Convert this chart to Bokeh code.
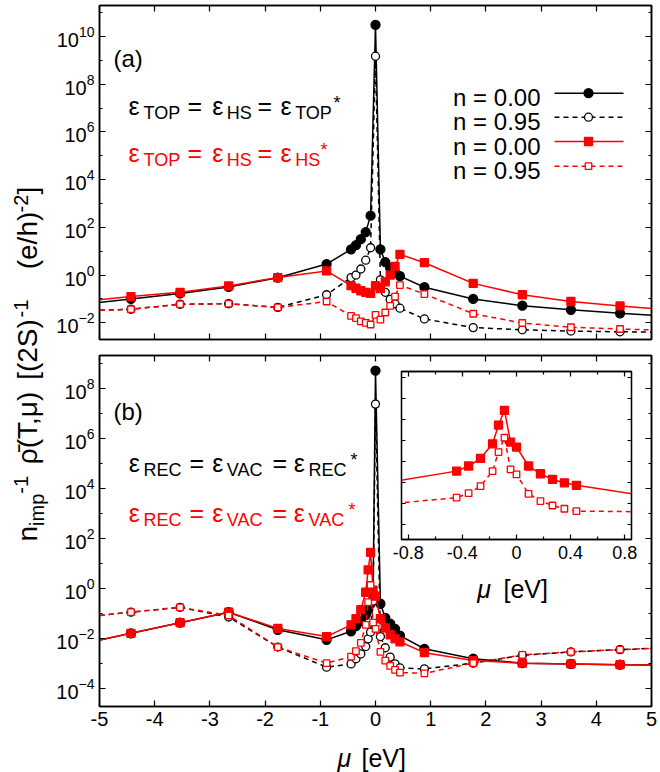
import math
from bokeh.plotting import figure
from bokeh.models import (Range1d, FixedTicker, LinearAxis, LogAxis, Label,
                          CustomJSTickFormatter)
from bokeh.layouts import row, column
from bokeh.embed import file_html
from bokeh.resources import INLINE

FONT = "Liberation Sans"
BLACK = "#000000"
RED = "#ff0000"

# ---------------- data ----------------
# panel (a): epsilon_TOP = epsilon_HS
mu_a = [-5.32, -4.43, -3.54, -2.66, -1.77, -0.886, -0.443, -0.354, -0.266, -0.177,
        -0.089, 0.0, 0.089, 0.177, 0.266, 0.354, 0.443, 0.886, 1.77, 2.66, 3.54, 4.43, 5.32]
a_top_n000 = [0.060, 0.10, 0.17, 0.32, 0.78, 2.9, 12, 18, 32, 63,
              310, 3.1e10, 12, 3.5, 2.0, 1.3, 0.91, 0.31, 0.10, 0.052, 0.035, 0.025, 0.019]
a_top_n095 = [0.032, 0.037, 0.060, 0.063, 0.044, 0.15, 0.79, 1.0, 1.8, 4.2,
              14, 1.5e9, 0.63, 0.19, 0.095, 0.063, 0.041, 0.0145, 0.0063, 0.0051, 0.0045, 0.0042, 0.0040]
a_hs_n000 = [0.079, 0.126, 0.19, 0.35, 0.79, 1.5, 0.36, 0.28, 0.22, 0.19,
             0.17, 0.36, 0.27, 0.52, 1.0, 2.3, 7.4, 3.3, 0.45, 0.15, 0.078, 0.051, 0.035]
a_hs_n095 = [0.032, 0.037, 0.060, 0.063, 0.044, 0.078, 0.0195, 0.0158, 0.0115, 0.010,
             0.0085, 0.0214, 0.0135, 0.027, 0.051, 0.126, 0.38, 0.16, 0.024, 0.0098, 0.0065, 0.0055, 0.0048]

# panel (b): epsilon_REC = epsilon_VAC
mu_b = [-5.32, -4.43, -3.54, -2.66, -1.77, -0.886, -0.443, -0.354, -0.266, -0.177, -0.133,
        -0.089, -0.044, 0.0, 0.089, 0.177, 0.266, 0.354, 0.443, 0.886, 1.77, 2.66, 3.54, 4.43, 5.32]
b_rec_n000 = [0.0063, 0.0166, 0.044, 0.115, 0.023, 0.0091, 0.020, 0.032, 0.050, 0.089, 0.14,
              0.25, 0.63, 5.0e8, 0.25, 0.069, 0.040, 0.025, 0.0135, 0.0040, 0.0016, 0.00107, 0.00100, 0.00093, 0.00089]
b_rec_n095 = [0.072, 0.115, 0.18, 0.074, 0.0047, 0.00074, 0.0010, 0.0016, 0.0025, 0.0049, 0.010,
              0.0186, 0.32, 2.3e7, 0.0123, 0.0044, 0.00186, 0.0010, 0.00069, 0.00063, 0.00107, 0.0022, 0.0030, 0.0037, 0.0044]
b_vac_n000 = [0.0063, 0.0166, 0.044, 0.115, 0.026, 0.0123, 0.036, 0.063, 0.145, 0.72, 5.6,
              28, 0.87, 0.50, 0.063, 0.027, 0.0145, 0.010, 0.0076, 0.0028, 0.00135, 0.00107, 0.00100, 0.00093, 0.00089]
b_vac_n095 = [0.072, 0.115, 0.18, 0.085, 0.0047, 0.00107, 0.00195, 0.0032, 0.0069, 0.036, 0.29,
              1.4, 0.044, 0.025, 0.0030, 0.00135, 0.00083, 0.00058, 0.00045, 0.00042, 0.00107, 0.0023, 0.0030, 0.0037, 0.0044]

x_ticks = [-5, -4, -3, -2, -1, 0, 1, 2, 3, 4, 5]
ya_ticks = [1e-2, 1e0, 1e2, 1e4, 1e6, 1e8, 1e10]
ya_minor = [1e-3, 1e-1, 1e1, 1e3, 1e5, 1e7, 1e9, 1e11]
yb_ticks = [1e-4, 1e-2, 1e0, 1e2, 1e4, 1e6, 1e8]
yb_minor = [1e-5, 1e-3, 1e-1, 1e1, 1e3, 1e5, 1e7, 1e9]
inset_x_ticks = [-0.8, -0.4, 0.0, 0.4, 0.8]
inset_x_minor = [-0.6, -0.2, 0.2, 0.6]
inset_y_ticks = [1e-4, 1e-3, 1e-2, 1e-1, 1e0, 1e1, 1e2, 1e3]
legend_labels = ["n = 0.00", "n = 0.95", "n = 0.00", "n = 0.95"]

STYLES = [
    dict(color=BLACK, dash="solid", marker="circle", size=9, fill=BLACK),
    dict(color=BLACK, dash="5 4", marker="circle", size=8, fill="white"),
    dict(color=RED, dash="solid", marker="square", size=8, fill=RED),
    dict(color=RED, dash="5 4", marker="square", size=6.5, fill="white"),
]

W, H = 660, 772


def style_axis(ax, ticker, labels, fs="20px", tin=6, tmin=3, lw=1.5):
    ax.ticker = ticker
    ax.major_tick_in = tin
    ax.major_tick_out = 0
    ax.minor_tick_in = tmin
    ax.minor_tick_out = 0
    ax.axis_line_color = BLACK
    ax.axis_line_width = lw
    ax.major_tick_line_color = BLACK
    ax.minor_tick_line_color = BLACK
    ax.major_tick_line_width = 1.2
    ax.minor_tick_line_width = 1.2
    ax.major_label_text_font = FONT
    ax.major_label_text_font_size = fs
    ax.major_label_text_color = BLACK
    if not labels:
        ax.formatter = CustomJSTickFormatter(code="return '';")
        ax.major_label_standoff = 0
        ax.major_label_text_font_size = "0px"


def draw_series(p, x, y, st, lw=1.5, xm=None, ym=None):
    p.line(x, y, line_color=st["color"], line_width=lw, line_dash=st["dash"])
    p.scatter(x if xm is None else xm, y if ym is None else ym, marker=st["marker"],
              size=st["size"], fill_color=st["fill"], line_color=st["color"], line_width=1.3)


def make_panel(ylog_lo, ylog_hi, fh, top, bottom, yt, ym, xlabels):
    p = figure(x_range=Range1d(-5, 5), y_range=Range1d(10 ** ylog_lo, 10 ** ylog_hi),
               y_axis_type="log", frame_width=552, frame_height=fh,
               min_border_left=99, min_border_right=9, min_border_top=top,
               min_border_bottom=bottom, toolbar_location=None, output_backend="svg")
    p.grid.visible = False
    p.outline_line_color = BLACK
    p.outline_line_width = 1.5
    p.background_fill_color = "white"
    p.border_fill_color = "white"
    style_axis(p.xaxis[0], FixedTicker(ticks=x_ticks), xlabels)
    if xlabels:
        p.xaxis[0].formatter = CustomJSTickFormatter(code="return tick.toFixed(0);")
    style_axis(p.yaxis[0], FixedTicker(ticks=yt, minor_ticks=ym), True)
    xt = LinearAxis()
    style_axis(xt, FixedTicker(ticks=x_ticks), False)
    p.add_layout(xt, "above")
    yr = LogAxis()
    style_axis(yr, FixedTicker(ticks=yt, minor_ticks=ym), False)
    p.add_layout(yr, "right")
    return p


# page-pixel -> data converter for legend samples of panel (a)
A_TOP, A_H, A_LO, A_HI = 5, 334, -2.7, 11.3
B_TOP, B_H, B_LO, B_HI = 355, 351, -4.7, 9.3


def conv_a(px, py):
    return (-5 + (px - 99) / 55.2, 10 ** (A_HI - (py - A_TOP) / (A_H / (A_HI - A_LO))))


# ---------------- panel (a) ----------------
pa = make_panel(A_LO, A_HI, A_H, 5, 8, ya_ticks, ya_minor, False)
for ys, st in zip([a_top_n000, a_top_n095, a_hs_n000, a_hs_n095], STYLES):
    draw_series(pa, mu_a, ys, st)

leg_centers = [92.7, 116.7, 141, 165.7]
leg_bases = [101.7, 125.5, 150, 174.5]
for st, yc in zip(STYLES, leg_centers):
    x1, yy = conv_a(554, yc)
    x2, _ = conv_a(623, yc)
    xm, _ = conv_a(588, yc)
    draw_series(pa, [x1, x2], [yy, yy], st, xm=[xm], ym=[yy])

# ---------------- panel (b) ----------------
pb = make_panel(B_LO, B_HI, B_H, 8, 66, yb_ticks, yb_minor, True)
for ys, st in zip([b_rec_n000, b_rec_n095, b_vac_n000, b_vac_n095], STYLES):
    draw_series(pb, mu_b, ys, st)

# ---------------- inset ----------------
I_W, I_H = 230, 168
inset = figure(x_range=Range1d(-0.85, 0.85), y_range=Range1d(10 ** -4.7, 10 ** 3.3),
               y_axis_type="log", frame_width=I_W, frame_height=I_H,
               min_border_left=12, min_border_right=10, min_border_top=4, min_border_bottom=62,
               toolbar_location=None, output_backend="svg")
inset.grid.visible = False
inset.outline_line_color = BLACK
inset.outline_line_width = 1.3
inset.background_fill_color = "white"
inset.border_fill_alpha = 0
style_axis(inset.xaxis[0], FixedTicker(ticks=inset_x_ticks, minor_ticks=inset_x_minor), True,
           fs="18px", tin=5, tmin=3, lw=1.3)
inset.xaxis[0].major_label_standoff = 6
inset.xaxis[0].formatter = CustomJSTickFormatter(
    code="return Math.abs(tick) < 1e-9 ? '0' : tick.toFixed(1);")
style_axis(inset.yaxis[0], FixedTicker(ticks=inset_y_ticks), False, tin=4, lw=1.3)
it = LinearAxis()
style_axis(it, FixedTicker(ticks=inset_x_ticks, minor_ticks=inset_x_minor), False, tin=5, tmin=3, lw=1.3)
inset.add_layout(it, "above")
ir = LogAxis()
style_axis(ir, FixedTicker(ticks=inset_y_ticks), False, tin=4, lw=1.3)
inset.add_layout(ir, "right")
sel = [i for i, m in enumerate(mu_b) if abs(m) < 0.5]
for ys, st in zip([b_vac_n000, b_vac_n095], STYLES[2:]):
    draw_series(inset, mu_b, ys, st, xm=[mu_b[i] for i in sel], ym=[ys[i] for i in sel])
inset.styles = {"position": "absolute", "left": "389px", "top": "367px"}

# ---------------- transparent text overlay (page pixel coordinates) ----------------
ov = figure(frame_width=W, frame_height=H, x_range=Range1d(0, W), y_range=Range1d(H, 0),
            min_border=0, toolbar_location=None, output_backend="svg",
            x_axis_location=None, y_axis_location=None)
ov.grid.visible = False
ov.outline_line_color = None
ov.background_fill_alpha = 0
ov.border_fill_alpha = 0
ov.styles = {"position": "absolute", "left": "0px", "top": "0px"}

MID = 0.3465  # offset from alphabetic baseline to the middle of the em box


def txt(px, base, text, size, color=BLACK, italic=False, align="left"):
    ov.add_layout(Label(x=px, y=base - MID * size, text=text, text_font=FONT,
                        text_font_size=f"{size}px", text_color=color, text_align=align,
                        text_baseline="middle",
                        text_font_style="italic" if italic else "normal"))


def rtxt(cx, cy, text, size):
    ov.add_layout(Label(x=cx, y=cy, text=text, text_font=FONT, text_font_size=f"{size}px",
                        text_color=BLACK, text_align="center", text_baseline="middle",
                        angle=math.pi / 2))


def eq_line(pieces, base, color):
    for t, px, kind in pieces:
        if kind == "m":
            txt(px, base, t, 25, color)
        elif kind == "sub":
            txt(px - 2, base + 5, t, 18, color)
        else:
            txt(px, base - 5, t, 18, color)


txt(113, 62, "(a)", 24)
txt(113, 415, "(b)", 24)
eq_line([("ε", 128, "m"), ("TOP", 145, "sub"), ("=", 187, "m"), ("ε", 211.7, "m"),
         ("HS", 228.3, "sub"), ("=", 257, "m"), ("ε", 280, "m"), ("TOP", 296.7, "sub"),
         ("*", 333, "sup")], 110, BLACK)
eq_line([("ε", 128, "m"), ("TOP", 145, "sub"), ("=", 187, "m"), ("ε", 211.7, "m"),
         ("HS", 228.3, "sub"), ("=", 257, "m"), ("ε", 280, "m"), ("HS", 296.7, "sub"),
         ("*", 320, "sup")], 157, RED)
eq_line([("ε", 128.3, "m"), ("REC", 145, "sub"), ("=", 189, "m"), ("ε", 211.7, "m"),
         ("VAC", 228.3, "sub"), ("=", 272, "m"), ("ε", 293.3, "m"), ("REC", 310, "sub"),
         ("*", 350, "sup")], 467, BLACK)
eq_line([("ε", 128.3, "m"), ("REC", 145, "sub"), ("=", 189, "m"), ("ε", 211.7, "m"),
         ("VAC", 228.3, "sub"), ("=", 272, "m"), ("ε", 293.3, "m"), ("VAC", 310, "sub"),
         ("*", 348, "sup")], 517, RED)
for lab, yb in zip(legend_labels, leg_bases):
    txt(540, yb, lab, 24, align="right")

# x-axis titles
txt(337, 762, "μ", 25, italic=True)
txt(361, 762, "[eV]", 25)
txt(476.7, 593, "μ", 25, italic=True)
txt(503, 593, "[eV]", 25)

# rotated y-axis title, built from pieces (main / subscript / superscript)
MAIN_X, SUB_X, SUP_X = 27.3, 36.1, 20.1
for t, cy, kind in [("n", 529.2, "m"), ("imp", 505.3, "sub"), ("-1", 480.3, "sup"),
                    ("ρ\u0304(T,μ)", 423.5, "m"), ("[(2S)", 345, "m"), ("-1", 304, "sup"),
                    ("(e/h)", 236, "m"), ("-2", 199, "sup"), ("]", 186, "m")]:
    if kind == "m":
        rtxt(MAIN_X, cy, t, 28)
    elif kind == "sub":
        rtxt(SUB_X, cy, t, 20)
    else:
        rtxt(SUP_X, cy, t, 20)

layout = row(column(pa, pb), inset, ov)
open("out.html", "w").write(file_html(layout, INLINE))
